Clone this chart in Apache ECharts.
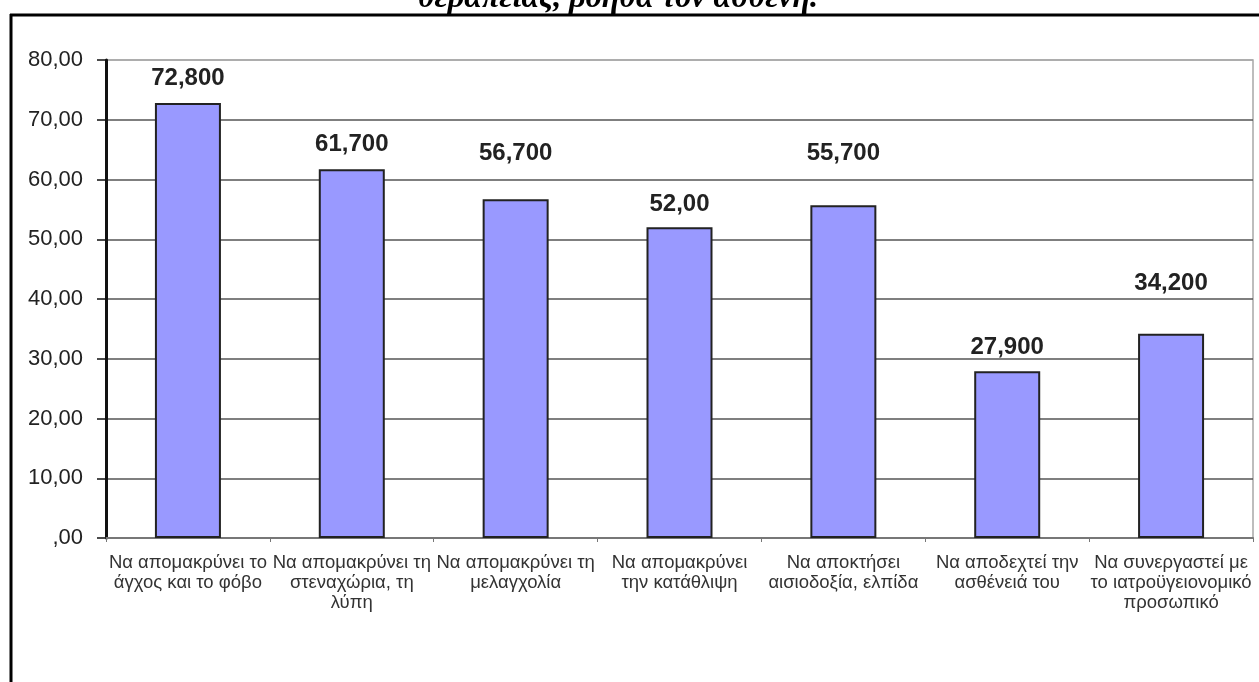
<!DOCTYPE html>
<html>
<head>
<meta charset="utf-8">
<script src="https://cdn.jsdelivr.net/npm/echarts@6/dist/echarts.min.js"></script>
<style>
  html, body { margin: 0; padding: 0; background: #fff; }
  #chart { width: 1259px; height: 682px; }
</style>
</head>
<body>
<div id="chart"></div>
<script>
// Categories (multi-line axis labels)
const categories = [
  'Να απομακρύνει το\nάγχος και το φόβο',
  'Να απομακρύνει τη\nστεναχώρια, τη\nλύπη',
  'Να απομακρύνει τη\nμελαγχολία',
  'Να απομακρύνει\nτην κατάθλιψη',
  'Να αποκτήσει\nαισιοδοξία, ελπίδα',
  'Να αποδεχτεί την\nασθένειά του',
  'Να συνεργαστεί με\nτο ιατροϋγειονομικό\nπροσωπικό'
];

// Value labels as printed above the bars; bar heights come from these
const valueLabels = ['72,800', '61,700', '56,700', '52,00', '55,700', '27,900', '34,200'];
const values = valueLabels.map(s => parseFloat(s.replace(',', '.')));

// Y axis range / ticks
const yMin = 0;
const yMax = 80;
const yStep = 10;

const titleText = 'θεραπείας, βοηθά τον ασθενή.';

// Extra gap between a bar top and its value label
const labelGap = [13, 13, 34, 11, 40, 12, 38];

const chart = echarts.init(document.getElementById('chart'), null, { renderer: 'canvas' });

const nSplit = (yMax - yMin) / yStep + 1;
const splitColors = [];
for (let i = 0; i < nSplit; i++) splitColors.push(i === nSplit - 1 ? '#a8a8a8' : '#555');

chart.setOption({
  backgroundColor: '#fff',
  animation: false,
  grid: {
    left: 106, right: 6, top: 60, bottom: 144,
    show: true, borderColor: '#a8a8a8', borderWidth: 1.5,
    containLabel: false
  },
  xAxis: {
    type: 'category',
    data: categories,
    axisLine: { show: true, lineStyle: { color: '#777', width: 2 } },
    axisTick: { show: true, length: 4, alignWithLabel: false, lineStyle: { color: '#777', width: 1 } },
    axisLabel: {
      interval: 0,
      margin: 15,
      color: '#333',
      fontFamily: '"Liberation Sans", Arial, sans-serif',
      fontSize: 18.5,
      lineHeight: 20
    },
    splitLine: { show: false }
  },
  yAxis: {
    type: 'value',
    min: yMin, max: yMax, interval: yStep,
    axisLine: { show: true, lineStyle: { color: '#111', width: 3 } },
    axisTick: { show: true, length: 9, lineStyle: { color: '#111', width: 1.5 } },
    axisLabel: {
      margin: 23,
      color: '#222',
      fontFamily: '"Liberation Sans", Arial, sans-serif',
      fontSize: 22,
      formatter: v => (v === 0 ? ',00' : v.toFixed(2).replace('.', ','))
    },
    splitLine: { show: true, lineStyle: { color: splitColors, width: 1.5 } }
  },
  series: [{
    type: 'bar',
    barWidth: 66,
    data: values.map((v, i) => ({
      value: v,
      label: { distance: labelGap[i] }
    })),
    itemStyle: { color: '#9999ff', borderColor: '#222', borderWidth: 2 },
    label: {
      show: true,
      position: 'top',
      formatter: p => valueLabels[p.dataIndex],
      color: '#222',
      fontFamily: '"Liberation Sans", Arial, sans-serif',
      fontWeight: 'bold',
      fontSize: 24
    }
  }],
  graphic: [
    // outer frame (top and left edges)
    { type: 'line', shape: { x1: 10, y1: 15, x2: 1259, y2: 15 }, style: { stroke: '#000', lineWidth: 3 } },
    { type: 'line', shape: { x1: 11, y1: 14, x2: 11, y2: 682 }, style: { stroke: '#000', lineWidth: 3 } },
    // title (its upper part runs past the top edge)
    {
      type: 'text',
      x: 618, y: 15,
      style: {
        text: titleText,
        align: 'center',
        verticalAlign: 'bottom',
        font: 'italic bold 32px "Liberation Serif", "Times New Roman", serif',
        fill: '#000'
      }
    }
  ]
});
</script>
</body>
</html>
